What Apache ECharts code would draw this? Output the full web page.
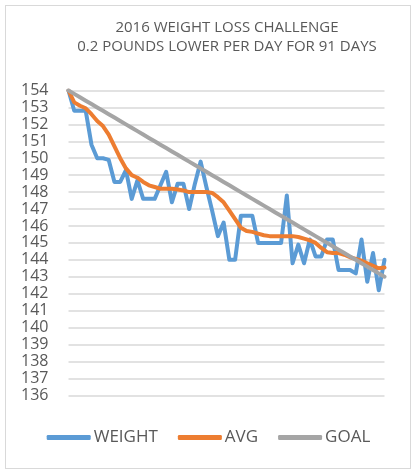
<!DOCTYPE html>
<html>
<head>
<meta charset="utf-8">
<script src="https://cdn.jsdelivr.net/npm/echarts@6.0.0/dist/echarts.min.js"></script>
<style>
  html, body { margin: 0; padding: 0; background: #fff; }
  #frame { position: absolute; left: 5px; top: 5px; width: 404px; height: 462px; border: 1px solid #d9d9d9; }
  #chart { position: absolute; left: 0; top: 0; width: 417px; height: 474px; }
</style>
</head>
<body>
<div id="frame"></div>
<div id="chart"></div>
<script>
  'use strict';

  var days = [
    1, 2, 3, 4, 5, 6, 7, 8, 9, 10, 11, 12, 13, 14, 15, 16, 17, 18, 19, 20,
    21, 22, 23, 24, 25, 26, 27, 28, 29, 30, 31, 32, 33, 34, 35, 36, 37, 38, 39, 40,
    41, 42, 43, 44, 45, 46, 47, 48, 49, 50, 51, 52, 53, 54, 55, 56
  ];

  // daily weigh-ins
  var weight = [
    154.0, 152.8, 152.8, 152.8, 150.8, 150.0, 150.0, 149.9, 148.6, 148.6,
    149.3, 147.6, 148.7, 147.6, 147.6, 147.6, 148.4, 149.2, 147.4, 148.5,
    148.5, 147.0, 148.5, 149.8, 148.3, 146.9, 145.4, 146.2, 144.0, 144.0,
    146.6, 146.6, 146.6, 145.0, 145.0, 145.0, 145.0, 145.0, 147.8, 143.8,
    144.9, 143.8, 145.2, 144.2, 144.2, 145.2, 145.2, 143.4, 143.4, 143.4,
    143.2, 145.2, 142.7, 144.4, 142.2, 144.0
  ];

  var avg = [
    154.0, 153.3, 153.1, 152.95, 152.6, 152.2, 151.9, 151.4, 150.7, 150.0,
    149.4, 149.0, 148.85, 148.6, 148.4, 148.3, 148.2, 148.2, 148.2, 148.15,
    148.1, 148.0, 148.0, 148.0, 148.0, 147.95, 147.7, 147.4, 146.9, 146.4,
    145.9, 145.7, 145.65, 145.55, 145.45, 145.4, 145.4, 145.4, 145.4, 145.4,
    145.35, 145.25, 145.15, 145.0, 144.7, 144.45, 144.4, 144.4, 144.3, 144.15,
    144.05, 143.95, 143.8, 143.65, 143.5, 143.55
  ];

  var goal = [
    154.0, 153.8, 153.6, 153.4, 153.2, 153.0, 152.8, 152.6, 152.4, 152.2,
    152.0, 151.8, 151.6, 151.4, 151.2, 151.0, 150.8, 150.6, 150.4, 150.2,
    150.0, 149.8, 149.6, 149.4, 149.2, 149.0, 148.8, 148.6, 148.4, 148.2,
    148.0, 147.8, 147.6, 147.4, 147.2, 147.0, 146.8, 146.6, 146.4, 146.2,
    146.0, 145.8, 145.6, 145.4, 145.2, 145.0, 144.8, 144.6, 144.4, 144.2,
    144.0, 143.8, 143.6, 143.4, 143.2, 143.0
  ];

  var textColor = '#595959';
  var font = '"Open Sans", "Liberation Sans", sans-serif';

  function lineSeries(name, data, color) {
    return {
      name: name,
      type: 'line',
      data: data,
      symbol: 'none',
      smooth: false,
      color: color,
      lineStyle: { width: 4, color: color, cap: 'round', join: 'round' }
    };
  }

  var chart = echarts.init(document.getElementById('chart'), null, { renderer: 'canvas' });

  chart.setOption({
    animation: false,
    textStyle: { fontFamily: font },
    title: {
      text: '2016 WEIGHT LOSS CHALLENGE\n0.2 POUNDS LOWER PER DAY FOR 91 DAYS',
      left: 222,
      top: 13,
      textAlign: 'center',
      textStyle: {
        fontFamily: font,
        fontSize: 15,
        fontWeight: 'normal',
        color: textColor,
        lineHeight: 19
      }
    },
    legend: {
      bottom: 23,
      left: 'center',
      icon: 'roundRect',
      itemWidth: 44,
      itemHeight: 5,
      itemGap: 20,
      textStyle: { fontFamily: font, fontSize: 17, color: textColor, padding: [0, 0, 0, -2] },
      data: ['WEIGHT', 'AVG', 'GOAL']
    },
    grid: {
      left: 68.5,
      right: 32.5,
      top: 90.5,
      bottom: 78.7,
      containLabel: false
    },
    xAxis: {
      type: 'category',
      data: days,
      boundaryGap: false,
      axisLine: { show: false },
      axisTick: { show: false },
      axisLabel: { show: false },
      splitLine: { show: false }
    },
    yAxis: {
      type: 'value',
      min: 136,
      max: 154,
      interval: 1,
      axisLine: { show: false },
      axisTick: { show: false },
      axisLabel: {
        fontFamily: font,
        fontSize: 16,
        color: textColor,
        margin: 20
      },
      splitLine: { lineStyle: { color: '#d9d9d9', width: 1.5 } }
    },
    series: [
      lineSeries('WEIGHT', weight, '#5B9BD5'),
      lineSeries('AVG', avg, '#ED7D31'),
      lineSeries('GOAL', goal, '#A5A5A5')
    ]
  });
</script>
</body>
</html>
